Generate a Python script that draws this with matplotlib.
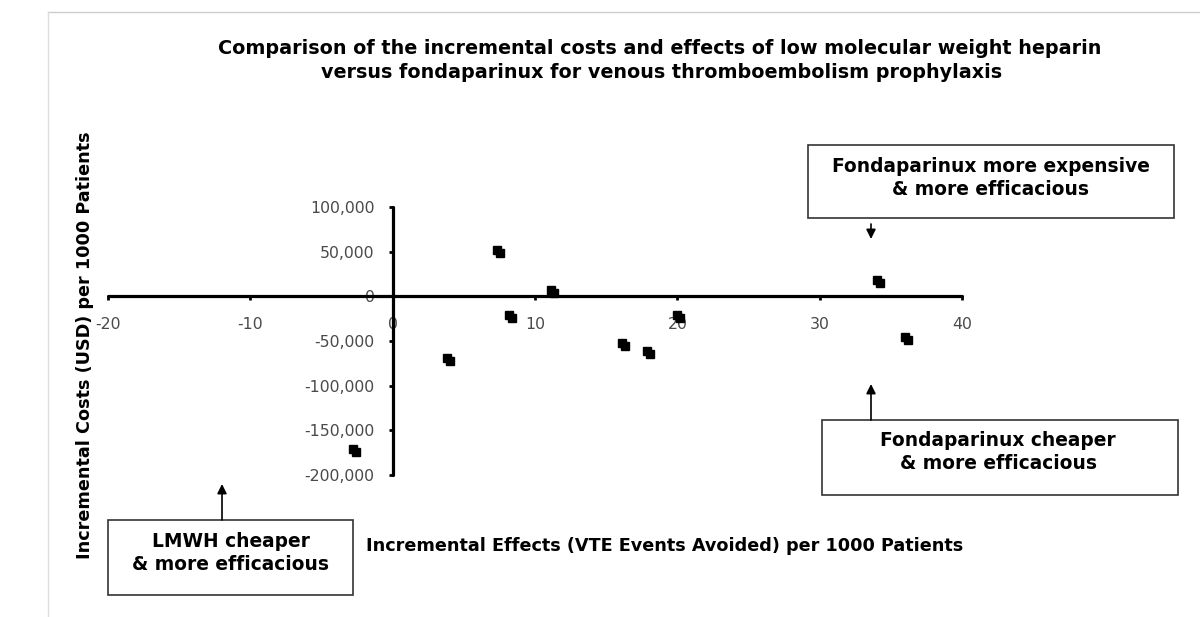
import numpy as np
import matplotlib.pyplot as plt
import matplotlib.transforms as mtransforms
from matplotlib.lines import Line2D

plt.rcParams['font.family'] = ['DejaVu Sans']

# incremental effects (VTE events avoided per 1000) and incremental costs (USD per 1000)
effects = [7.3, 8.2, 11.1, 3.8, 16.1, 17.9, -2.8, 20.0, 34.0, 36.0]
costs = [52000, -21000, 7500, -69000, -52500, -61000, -170500, -21000, 18600, -45000]

x_ticks = [-20, -10, 0, 10, 20, 30, 40]
y_ticks = [-200000, -150000, -100000, -50000, 0, 50000, 100000]

fig = plt.figure(figsize=(12, 6.17), dpi=100)
ax = fig.add_axes([108/1200, 1 - 475/617, (962-108)/1200, (475-207)/617])

ax.set_xlim(-20, 40)
ax.set_ylim(-200000, 100000)

# axes crossing at origin
for s in ['top', 'right']:
    ax.spines[s].set_visible(False)
ax.spines['left'].set_position(('data', 0))
ax.spines['bottom'].set_position(('data', 0))
ax.spines['left'].set_linewidth(2.3)
ax.spines['bottom'].set_linewidth(2.3)
ax.spines['left'].set_capstyle('round')
ax.spines['bottom'].set_capstyle('round')

ax.set_xticks(x_ticks)
ax.set_yticks(y_ticks)
ax.set_xticklabels([str(v) for v in x_ticks])
ax.set_yticklabels(['{:,}'.format(v) for v in y_ticks])
ax.tick_params(axis='x', direction='out', length=3, width=2, pad=12,
               labelsize=11.3, labelcolor='#4a4a4a')
ax.tick_params(axis='y', direction='out', length=3, width=2, pad=10,
               labelsize=11.3, labelcolor='#4a4a4a')

# double-square markers (second one shifted a few pixels)
shift = mtransforms.ScaledTranslation(3/100, -3/100, fig.dpi_scale_trans)
ax.plot(effects, costs, 's', color='black', ms=5.5, clip_on=False)
ax.plot(effects, costs, 's', color='black', ms=5.5, clip_on=False,
        transform=ax.transData + shift)

# title and axis labels
fig.text(660/1200, 1 - 48/617, 'Comparison of the incremental costs and effects of low molecular weight heparin',
         ha='center', va='center', fontsize=13.8, fontweight='bold')
fig.text(662/1200, 1 - 73/617, 'versus fondaparinux for venous thromboembolism prophylaxis',
         ha='center', va='center', fontsize=13.8, fontweight='bold')
fig.text(665/1200, 1 - 546/617, 'Incremental Effects (VTE Events Avoided) per 1000 Patients',
         ha='center', va='center', fontsize=12.7, fontweight='bold')
fig.text(85/1200, 1 - 345/617, 'Incremental Costs (USD) per 1000 Patients',
         ha='center', va='center', rotation=90, fontsize=12.7, fontweight='bold')

# quadrant boxes
def box(x0, y0, x1, y1, text, cx, cy):
    r = plt.Rectangle((x0/1200, 1 - y1/617), (x1-x0)/1200, (y1-y0)/617,
                      transform=fig.transFigure, fill=False, ec='#333333', lw=1.2)
    fig.add_artist(r)
    fig.text(cx/1200, 1 - cy/617, text, ha='center', va='center',
             fontsize=13.4, fontweight='bold', linespacing=1.3)

box(808, 145, 1174, 218, 'Fondaparinux more expensive\n& more efficacious', 991, 178)
box(822, 420, 1178, 495, 'Fondaparinux cheaper\n& more efficacious', 998, 452)
box(108, 520, 353, 595, 'LMWH cheaper\n& more efficacious', 231, 553)

def arrow(x, y_from, y_to):
    fig.add_artist(plt.Annotation('', xy=(x/1200, 1 - y_to/617), xytext=(x/1200, 1 - y_from/617),
                                  xycoords='figure fraction', textcoords='figure fraction',
                                  arrowprops=dict(arrowstyle='-|>', color='black', lw=1.2,
                                                  mutation_scale=14, shrinkA=0, shrinkB=0)))

arrow(871, 224, 239)
arrow(871, 420, 384)
arrow(222, 520, 484)

# faint frame lines
fig.add_artist(Line2D([48/1200, 1], [1 - 12/617, 1 - 12/617], transform=fig.transFigure,
                      color='#cccccc', lw=1))
fig.add_artist(Line2D([48/1200, 48/1200], [0, 1 - 12/617], transform=fig.transFigure,
                      color='#dddddd', lw=1))

fig.savefig('out.png', dpi=100)
